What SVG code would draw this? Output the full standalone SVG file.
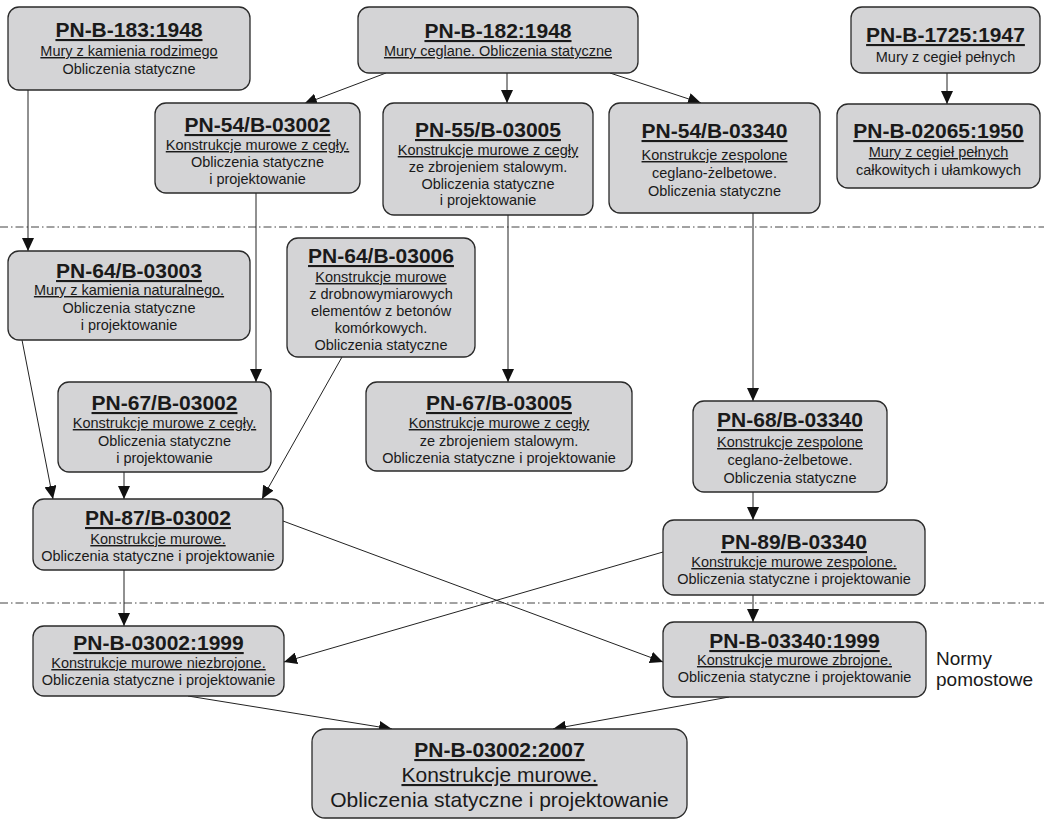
<svg xmlns="http://www.w3.org/2000/svg" width="1044" height="821" viewBox="0 0 1044 821">
<style>
.box{fill:#d4d4d6;stroke:#2a2a2a;stroke-width:1.3}
text{font-family:"Liberation Sans",Arial,sans-serif;fill:#1a1a1a;text-anchor:middle}
.t{font-size:21px;font-weight:bold;text-decoration:underline}
.s{font-size:14.5px}
.u{text-decoration:underline}
.b{font-size:21px}
.c{fill:none;stroke:#222;stroke-width:1}
.sep{fill:none;stroke:#444;stroke-width:1;stroke-dasharray:8 3 1.5 3}
</style>
<defs>
<marker id="ah" markerUnits="userSpaceOnUse" markerWidth="14" markerHeight="12" refX="13" refY="6" orient="auto">
<path d="M0,0 L13,6 L0,12 z" fill="#111"/>
</marker>
</defs>
<rect width="1044" height="821" fill="#fff"/>
<g id="separators">
<line class="sep" x1="0" y1="227" x2="1044" y2="227"/>
<line class="sep" x1="0" y1="603" x2="1044" y2="603"/>
</g>
<g id="connectors">
<line class="c" x1="28" y1="90" x2="28" y2="251" marker-end="url(#ah)"/>
<line class="c" x1="386" y1="73" x2="304" y2="104" marker-end="url(#ah)"/>
<line class="c" x1="507" y1="73" x2="507" y2="103" marker-end="url(#ah)"/>
<line class="c" x1="610" y1="73" x2="701" y2="103" marker-end="url(#ah)"/>
<line class="c" x1="947" y1="73" x2="947" y2="104" marker-end="url(#ah)"/>
<line class="c" x1="256" y1="193" x2="256" y2="382" marker-end="url(#ah)"/>
<line class="c" x1="508" y1="215" x2="508" y2="382" marker-end="url(#ah)"/>
<line class="c" x1="753" y1="213" x2="753" y2="401" marker-end="url(#ah)"/>
<line class="c" x1="22" y1="340" x2="53" y2="499" marker-end="url(#ah)"/>
<line class="c" x1="124" y1="472" x2="124" y2="499" marker-end="url(#ah)"/>
<line class="c" x1="342" y1="357" x2="262" y2="499" marker-end="url(#ah)"/>
<line class="c" x1="753" y1="492" x2="753" y2="520" marker-end="url(#ah)"/>
<line class="c" x1="124" y1="570" x2="124" y2="626" marker-end="url(#ah)"/>
<line class="c" x1="283" y1="521" x2="663" y2="662" marker-end="url(#ah)"/>
<line class="c" x1="663" y1="552" x2="284" y2="662" marker-end="url(#ah)"/>
<line class="c" x1="753" y1="595" x2="753" y2="622" marker-end="url(#ah)"/>
<line class="c" x1="188" y1="696" x2="392" y2="729" marker-end="url(#ah)"/>
<line class="c" x1="729" y1="697" x2="553" y2="729" marker-end="url(#ah)"/>
</g>
<g id="n-b183">
<rect class="box" x="8" y="7" width="242" height="83" rx="11"/>
<text class="t" x="129" y="37">PN-B-183:1948</text>
<text class="s u" x="129" y="56">Mury z kamienia rodzimego</text>
<text class="s" x="129" y="74">Obliczenia statyczne</text>
</g>
<g id="n-b182">
<rect class="box" x="358" y="7" width="280" height="66" rx="11"/>
<text class="t" x="498" y="38">PN-B-182:1948</text>
<text class="s u" x="498" y="56">Mury ceglane. Obliczenia statyczne</text>
</g>
<g id="n-b1725">
<rect class="box" x="851" y="7" width="189" height="66" rx="11"/>
<text class="t" x="945.5" y="42">PN-B-1725:1947</text>
<text class="s" x="945.5" y="62">Mury z cegieł pełnych</text>
</g>
<g id="n-b02065">
<rect class="box" x="837" y="104" width="203" height="84" rx="11"/>
<text class="t" x="938.5" y="138">PN-B-02065:1950</text>
<text class="s u" x="938.5" y="157">Mury z cegieł pełnych</text>
<text class="s" x="938.5" y="175">całkowitych i ułamkowych</text>
</g>
<g id="n-54-03002">
<rect class="box" x="155" y="103" width="205" height="90" rx="11"/>
<text class="t" x="257.5" y="132">PN-54/B-03002</text>
<text class="s u" x="257.5" y="150">Konstrukcje murowe z cegły.</text>
<text class="s" x="257.5" y="167">Obliczenia statyczne</text>
<text class="s" x="257.5" y="184">i projektowanie</text>
</g>
<g id="n-55-03005">
<rect class="box" x="383" y="103" width="210" height="112" rx="11"/>
<text class="t" x="488" y="137">PN-55/B-03005</text>
<text class="s u" x="488" y="155">Konstrukcje murowe z cegły</text>
<text class="s" x="488" y="172">ze zbrojeniem stalowym.</text>
<text class="s" x="488" y="189">Obliczenia statyczne</text>
<text class="s" x="488" y="205">i projektowanie</text>
</g>
<g id="n-54-03340">
<rect class="box" x="609" y="103" width="211" height="110" rx="11"/>
<text class="t" x="714.5" y="138">PN-54/B-03340</text>
<text class="s u" x="714.5" y="160">Konstrukcje zespolone</text>
<text class="s" x="714.5" y="178">ceglano-żelbetowe.</text>
<text class="s" x="714.5" y="196">Obliczenia statyczne</text>
</g>
<g id="n-64-03003">
<rect class="box" x="8" y="251" width="242" height="89" rx="11"/>
<text class="t" x="129" y="278">PN-64/B-03003</text>
<text class="s u" x="129" y="295">Mury z kamienia naturalnego.</text>
<text class="s" x="129" y="313">Obliczenia statyczne</text>
<text class="s" x="129" y="330">i projektowanie</text>
</g>
<g id="n-64-03006">
<rect class="box" x="287" y="238" width="188" height="119" rx="11"/>
<text class="t" x="381" y="263">PN-64/B-03006</text>
<text class="s u" x="381" y="282">Konstrukcje murowe</text>
<text class="s" x="381" y="299">z drobnowymiarowych</text>
<text class="s" x="381" y="316">elementów z betonów</text>
<text class="s" x="381" y="333">komórkowych.</text>
<text class="s" x="381" y="350">Obliczenia statyczne</text>
</g>
<g id="n-67-03002">
<rect class="box" x="58" y="382" width="213" height="90" rx="11"/>
<text class="t" x="164.5" y="410">PN-67/B-03002</text>
<text class="s u" x="164.5" y="428">Konstrukcje murowe z cegły.</text>
<text class="s" x="164.5" y="446">Obliczenia statyczne</text>
<text class="s" x="164.5" y="463">i projektowanie</text>
</g>
<g id="n-67-03005">
<rect class="box" x="366" y="382" width="266" height="89" rx="11"/>
<text class="t" x="499" y="410">PN-67/B-03005</text>
<text class="s u" x="499" y="428">Konstrukcje murowe z cegły</text>
<text class="s" x="499" y="446">ze zbrojeniem stalowym.</text>
<text class="s" x="499" y="463">Obliczenia statyczne i projektowanie</text>
</g>
<g id="n-68-03340">
<rect class="box" x="693" y="401" width="194" height="91" rx="11"/>
<text class="t" x="790" y="427">PN-68/B-03340</text>
<text class="s u" x="790" y="447">Konstrukcje zespolone</text>
<text class="s" x="790" y="465">ceglano-żelbetowe.</text>
<text class="s" x="790" y="483">Obliczenia statyczne</text>
</g>
<g id="n-87-03002">
<rect class="box" x="33" y="499" width="250" height="71" rx="11"/>
<text class="t" x="158" y="525">PN-87/B-03002</text>
<text class="s u" x="158" y="544">Konstrukcje murowe.</text>
<text class="s" x="158" y="561">Obliczenia statyczne i projektowanie</text>
</g>
<g id="n-89-03340">
<rect class="box" x="663" y="520" width="262" height="75" rx="11"/>
<text class="t" x="794" y="549">PN-89/B-03340</text>
<text class="s u" x="794" y="567">Konstrukcje murowe zespolone.</text>
<text class="s" x="794" y="584">Obliczenia statyczne i projektowanie</text>
</g>
<g id="n-b03002-1999">
<rect class="box" x="33" y="626" width="251" height="70" rx="11"/>
<text class="t" x="158.5" y="650">PN-B-03002:1999</text>
<text class="s u" x="158.5" y="668">Konstrukcje murowe niezbrojone.</text>
<text class="s" x="158.5" y="685">Obliczenia statyczne i projektowanie</text>
</g>
<g id="n-b03340-1999">
<rect class="box" x="663" y="622" width="263" height="75" rx="11"/>
<text class="t" x="794.5" y="648">PN-B-03340:1999</text>
<text class="s u" x="794.5" y="665">Konstrukcje murowe zbrojone.</text>
<text class="s" x="794.5" y="682">Obliczenia statyczne i projektowanie</text>
</g>
<g id="n-b03002-2007">
<rect class="box" x="312" y="729" width="375" height="89" rx="13"/>
<text class="t" x="499.5" y="757">PN-B-03002:2007</text>
<text class="b u" x="499.5" y="782">Konstrukcje murowe.</text>
<text class="b" x="499.5" y="807">Obliczenia statyczne i projektowanie</text>
</g>
<g id="label-normy">
<text x="936" y="665" style="font-size:19px;text-anchor:start">Normy</text>
<text x="936" y="686" style="font-size:19px;text-anchor:start">pomostowe</text>
</g>
</svg>
